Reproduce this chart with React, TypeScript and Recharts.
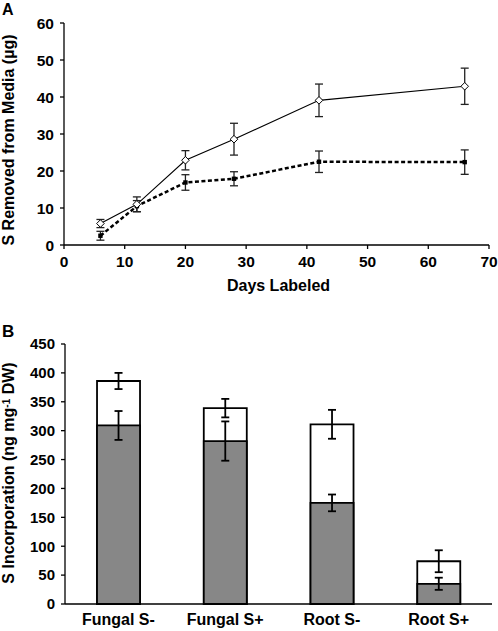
import React from "react";
import {
  LineChart,
  Line,
  XAxis,
  YAxis,
  ErrorBar,
  BarChart,
  Bar,
} from "recharts";

// ---- Panel A data ----
const days = [6, 12, 20, 28, 42, 66];
const openValues = [5.8, 11.0, 22.9, 28.6, 39.1, 42.9];
const openErr = [1.1, 2.0, 2.6, 4.3, 4.4, 4.9];
const filledValues = [2.5, 10.5, 16.9, 17.9, 22.5, 22.4];
const filledErr = [1.2, 1.5, 2.1, 1.9, 2.9, 3.3];
const xTicksA = [0, 10, 20, 30, 40, 50, 60, 70];
const yTicksA = [0, 10, 20, 30, 40, 50, 60];

// ---- Panel B data ----
const categories = ["Fungal S-", "Fungal S+", "Root S-", "Root S+"];
const grayValues = [309, 282, 175, 35];
const grayErr = [25, 34, 14.5, 10.5];
const whiteValues = [77, 57, 136, 39];
const whiteErr = [14, 16, 25, 19];
const yTicksB = [0, 50, 100, 150, 200, 250, 300, 350, 400, 450];

const dataA = days.map((d, i) => ({
  day: d,
  open: openValues[i],
  openErr: openErr[i],
  filled: filledValues[i],
  filledErr: filledErr[i],
}));

const dataB = categories.map((c, i) => ({
  name: c,
  gray: grayValues[i],
  grayErr: grayErr[i],
  total: grayValues[i] + whiteValues[i],
  totalErr: whiteErr[i],
}));

const FONT = "'Liberation Sans', Arial, sans-serif";
const tickStyle = { fontFamily: FONT, fontWeight: 700, fontSize: 15.5, fill: "#000" };

const Diamond = (props: any) => {
  const { cx, cy } = props;
  if (cx == null || cy == null) return null;
  const r = 3.8;
  return (
    <path
      d={`M${cx},${cy - r}L${cx + r},${cy}L${cx},${cy + r}L${cx - r},${cy}Z`}
      fill="#fff"
      stroke="#000"
      strokeWidth={1}
    />
  );
};

const Square = (props: any) => {
  const { cx, cy } = props;
  if (cx == null || cy == null) return null;
  const s = 2.2;
  return <rect x={cx - s} y={cy - s} width={2 * s} height={2 * s} fill="#000" />;
};

const YLabelA = (props: any) => {
  const vb = props.viewBox || { x: 0, y: 23, width: 64, height: 222 };
  const x = vb.x + 13.5;
  const y = vb.y + vb.height / 2 + 6;
  return (
    <text
      x={x}
      y={y}
      transform={`rotate(-90, ${x}, ${y})`}
      textAnchor="middle"
      style={{ fontFamily: FONT, fontWeight: 700, fontSize: 16, fill: "#000" }}
    >
      S Removed from Media (µg)
    </text>
  );
};

const XLabelA = (props: any) => {
  const vb = props.viewBox || { x: 64, y: 245, width: 425, height: 55 };
  const x = vb.x + vb.width / 2 + 2;
  const y = vb.y + 46;
  return (
    <text
      x={x}
      y={y}
      textAnchor="middle"
      style={{ fontFamily: FONT, fontWeight: 700, fontSize: 16, fill: "#000" }}
    >
      Days Labeled
    </text>
  );
};

const YLabelB = (props: any) => {
  const vb = props.viewBox || { x: 0, y: 44, width: 65, height: 260 };
  const x = vb.x + 14;
  const y = vb.y + vb.height / 2 - 1;
  return (
    <text
      x={x}
      y={y}
      transform={`rotate(-90, ${x}, ${y})`}
      textAnchor="middle"
      style={{ fontFamily: FONT, fontWeight: 700, fontSize: 16, fill: "#000" }}
    >
      S Incorporation (ng mg
      <tspan fontSize={10} dy={-4.5}>-1</tspan>
      <tspan dy={4.5}> DW)</tspan>
    </text>
  );
};

const panelLabel = (top: number, size: number): React.CSSProperties => ({
  position: "absolute",
  left: 2,
  top,
  fontFamily: FONT,
  fontWeight: 700,
  fontSize: size,
  lineHeight: `${size}px`,
  color: "#000",
});

export default function App() {
  return (
    <div style={{ position: "absolute", left: 0, top: 0, width: 498, height: 631, background: "#fff" }}>
      <div style={panelLabel(2.2, 16)}>A</div>
      <div style={panelLabel(323, 17)}>B</div>

      <div style={{ position: "absolute", left: 0, top: 0 }}>
        <LineChart
          width={498}
          height={300}
          data={dataA}
          margin={{ top: 23, right: 9, bottom: 0, left: 0 }}
        >
          <XAxis
            dataKey="day"
            type="number"
            domain={[0, 70]}
            ticks={xTicksA}
            interval={0}
            height={55}
            tick={tickStyle}
            tickSize={4}
            tickMargin={7}
            stroke="#000"
            strokeWidth={1.3}
            label={{ content: (p: any) => <XLabelA {...p} /> }}
          />
          <YAxis
            type="number"
            domain={[0, 60]}
            ticks={yTicksA}
            interval={0}
            width={64}
            tick={tickStyle}
            tickSize={4}
            tickMargin={6}
            stroke="#000"
            strokeWidth={1.3}
            label={{ content: (p: any) => <YLabelA {...p} /> }}
          />
          <Line
            dataKey="filled"
            stroke="#000"
            strokeWidth={2.5}
            strokeDasharray="4 2.5"
            dot={<Square />}
            activeDot={false}
            isAnimationActive={false}
          >
            <ErrorBar dataKey="filledErr" width={4} stroke="#222" strokeWidth={1.3} direction="y" />
          </Line>
          <Line
            dataKey="open"
            stroke="#000"
            strokeWidth={1.1}
            dot={<Diamond />}
            activeDot={false}
            isAnimationActive={false}
          >
            <ErrorBar dataKey="openErr" width={4} stroke="#222" strokeWidth={1.3} direction="y" />
          </Line>
        </LineChart>
      </div>

      <div style={{ position: "absolute", left: 0, top: 300 }}>
        <BarChart
          width={498}
          height={331}
          data={dataB}
          margin={{ top: 44, right: 6, bottom: 0, left: 0 }}
          barCategoryGap="30%"
        >
          <XAxis
            xAxisId={0}
            dataKey="name"
            type="category"
            height={27}
            tick={{ ...tickStyle, fontSize: 16 }}
            tickLine={false}
            tickSize={4}
            tickMargin={6}
            stroke="#000"
            strokeWidth={1.3}
          />
          <XAxis xAxisId={1} dataKey="name" type="category" hide />
          <YAxis
            type="number"
            domain={[0, 450]}
            ticks={yTicksB}
            interval={0}
            width={65}
            tick={{ ...tickStyle, fontSize: 15 }}
            tickSize={4}
            tickMargin={6}
            stroke="#000"
            strokeWidth={1.3}
            label={{ content: (p: any) => <YLabelB {...p} /> }}
          />
          <Bar
            xAxisId={1}
            dataKey="total"
            fill="#fff"
            stroke="#000"
            strokeWidth={1.8}
            isAnimationActive={false}
          >
            <ErrorBar dataKey="totalErr" width={4} stroke="#000" strokeWidth={1.8} direction="y" />
          </Bar>
          <Bar
            xAxisId={0}
            dataKey="gray"
            fill="#878787"
            stroke="#000"
            strokeWidth={1.8}
            isAnimationActive={false}
          >
            <ErrorBar dataKey="grayErr" width={4} stroke="#000" strokeWidth={1.8} direction="y" />
          </Bar>
        </BarChart>
      </div>
    </div>
  );
}
